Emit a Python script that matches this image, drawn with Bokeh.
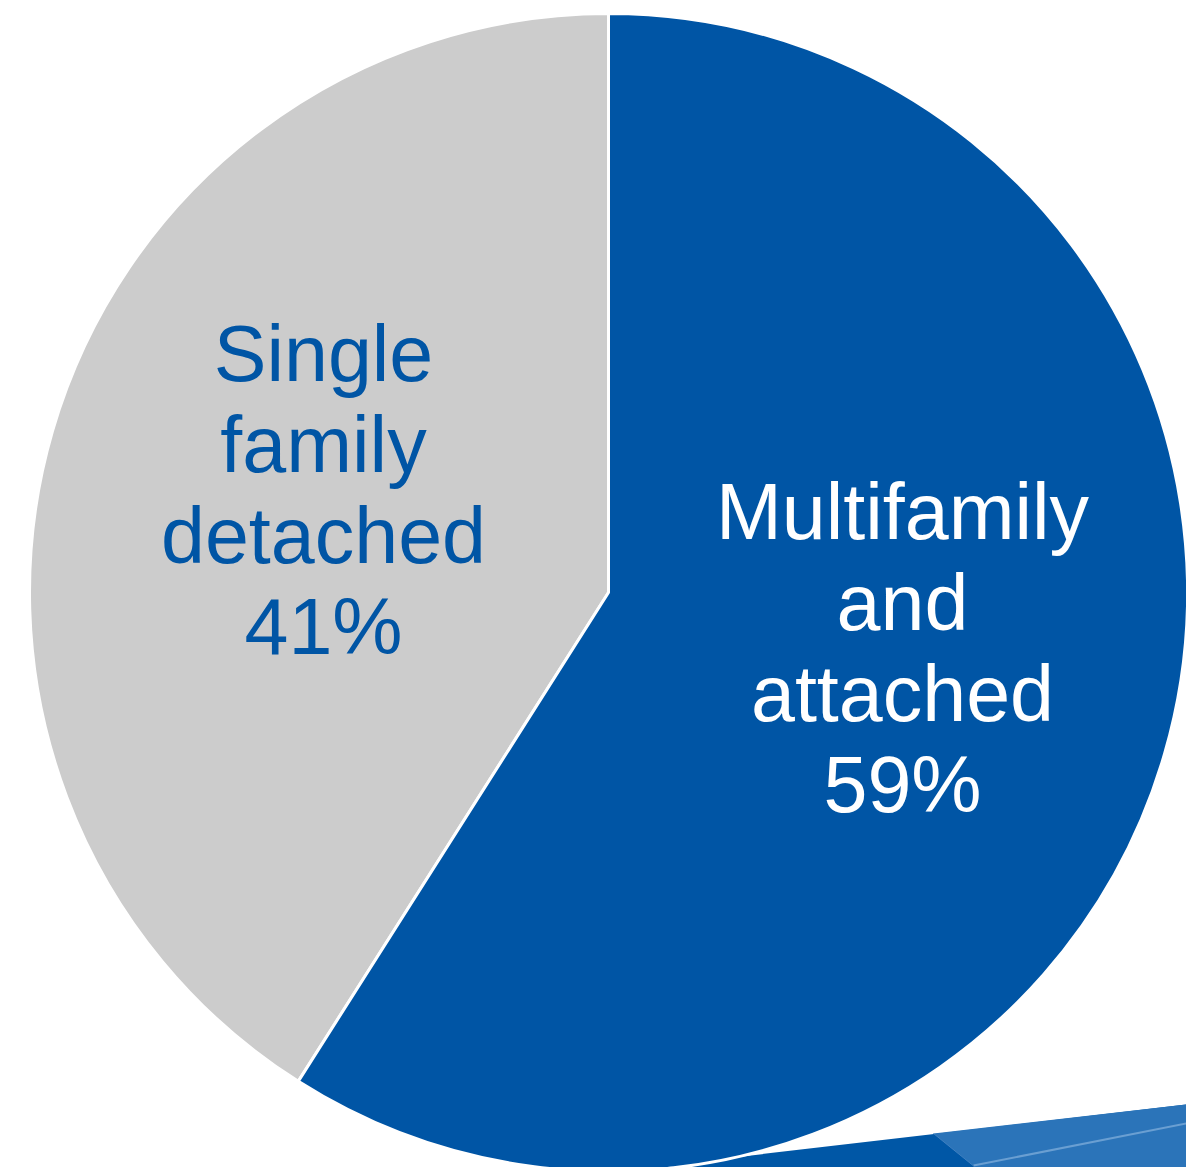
import math
from bokeh.plotting import figure
from bokeh.models import Range1d, ColumnDataSource
from bokeh.core.properties import value
from bokeh.embed import file_html
from bokeh.resources import INLINE

# ---- data ----
categories = ["Single family detached", "Multifamily and attached"]
label_lines = [["Single", "family", "detached"], ["Multifamily", "and", "attached"]]
shares = [41, 59]
colors = ["#CCCCCC", "#0055A5"]
text_colors = ["#0055A5", "#FFFFFF"]

# ---- layout constants (pixels) ----
W, H = 1186, 1167
CX, CY, R = 608, H - 592, 579
label_x = [323, 902]
label_first_baseline = [H - 353, H - 511]
line_step = 91
FONT = "Liberation Sans"

p = figure(width=W, height=H, x_range=Range1d(0, W), y_range=Range1d(0, H),
           output_backend="svg", toolbar_location=None, min_border=0)
p.axis.visible = False
p.grid.visible = False
p.outline_line_color = None
p.background_fill_color = "white"
p.border_fill_color = "white"

# decorative band in bottom-right corner (screen coords -> data coords)
def sy(v):
    return H - v
p.patch([647, 1186, 1186], [sy(1167), sy(1104), sy(1167)], fill_color="#0057A6", line_color=None)
p.patch([933, 1186, 1186, 975], [sy(1133), sy(1104), sy(1167), sy(1167)], fill_color="#2B74B9", line_color=None)
p.line([973, 1186], [sy(1165), sy(1123)], line_color="#6A9FD2", line_width=2)
p.line([933, 975], [sy(1133), sy(1167)], line_color="#3F80C0", line_width=1)

# pie wedges
total = sum(shares)
starts, ends = [], []
a = math.pi / 2
for s in shares:
    starts.append(a)
    a += 2 * math.pi * s / total
    ends.append(a)
src = ColumnDataSource(dict(x=[CX] * len(shares), y=[CY] * len(shares),
                            start=starts, end=ends, color=colors, cat=categories))
p.wedge(x="x", y="y", radius=R, start_angle="start", end_angle="end",
        fill_color="color", line_color="white", line_width=3, source=src)

# labels
for i, (lines, s) in enumerate(zip(label_lines, shares)):
    all_lines = lines + [f"{s}%"]
    ys = [label_first_baseline[i] - k * line_step for k in range(len(all_lines))]
    p.text(x=[label_x[i]] * len(all_lines), y=ys, text=all_lines,
           text_font=value(FONT), text_font_size="79px", text_align="center",
           text_baseline="alphabetic", text_color=text_colors[i])

open("out.html", "w").write(file_html(p, INLINE))
